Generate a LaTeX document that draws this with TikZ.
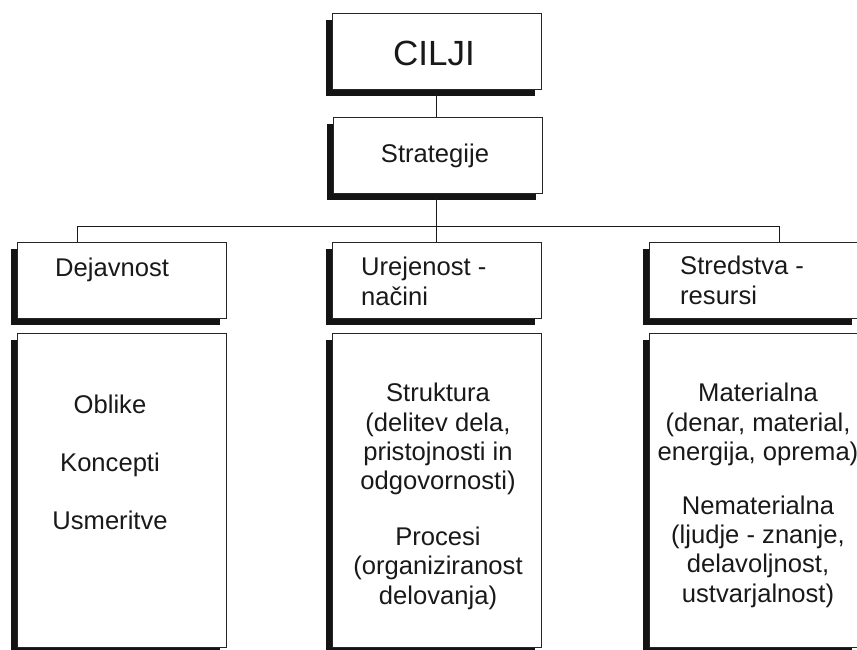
\documentclass[tikz,border=0pt]{standalone}
\usepackage{fontspec}
\setmainfont{Liberation Sans}
\usetikzlibrary{shadows}
\begin{document}
\begin{tikzpicture}[x=1pt,y=-1pt,
  box/.style={draw=black!85, line width=0.7pt, fill=white, inner sep=0pt,
    drop shadow={shadow xshift=-6.5pt, shadow yshift=-6.8pt, opacity=1, fill=black!92}},
  headbox/.style={box, minimum width=209pt, minimum height=76pt},
  tallbox/.style={box, minimum width=209pt, minimum height=314pt},
  conn/.style={line width=0.9pt, black!90},
  txt/.style={font=\fontsize{25.6}{29.2}\selectfont, inner sep=0pt, text=black!90},
  bigtxt/.style={font=\fontsize{35}{40}\selectfont, inner sep=0pt, text=black!90}]
\useasboundingbox (0,0) rectangle (857,649);
\clip (0,0) rectangle (857,649);

% boxes
\node[headbox] (cilji) at (436.5,51) {};
\node[headbox] (strat) at (437.5,155) {};
\node[headbox] (dej) at (122,280) {};
\node[headbox] (ure) at (436.5,280.5) {};
\node[headbox] (sred) at (753.5,280.5) {};
\node[tallbox] (dejL) at (122,490) {};
\node[tallbox] (ureL) at (436.5,490) {};
\node[tallbox] (sredL) at (753.5,490) {};

% connectors
\coordinate (busL) at (77,226);
\coordinate (busR) at (779,226);
\draw[conn] (cilji.south) -- (cilji.south |- strat.north);
\draw[conn] (busL) -- (busR);
\draw[conn] (cilji.south |- strat.south) -- (cilji.south |- ure.north);
\draw[conn] (busL) -- (busL |- dej.north);
\draw[conn] (busR) -- (busR |- sred.north);

% texts (multi-line nodes are anchored at the baseline of their last line)
\node[bigtxt, anchor=base] (tcilji) at (434,65) {CILJI};
\node[txt, anchor=base] (tstrat) at (435,162) {Strategije};
\node[txt, anchor=base west] (tdej) at (55,276) {Dejavnost};
\node[txt, anchor=base west, align=left] (ture) at (361,305) {Urejenost -\\na\v{c}ini};
\node[txt, anchor=base west, align=left] (tsred) at (680,304) {Stredstva -\\resursi};
\node[txt, anchor=base, align=center] (tdejL) at (110,529)
  {Oblike\\[28.5pt]Koncepti\\[28.5pt]Usmeritve};
\node[txt, anchor=base, align=center] (tureL) at (438,604)
  {Struktura\\(delitev dela,\\pristojnosti in\\odgovornosti)\\[27pt]Procesi\\(organiziranost\\delovanja)};
\node[txt, anchor=base, align=center] (tsredL) at (758,602)
  {Materialna\\(denar, material,\\energija, oprema)\\[25pt]Nematerialna\\(ljudje - znanje,\\delavoljnost,\\ustvarjalnost)};
\end{tikzpicture}
\end{document}
